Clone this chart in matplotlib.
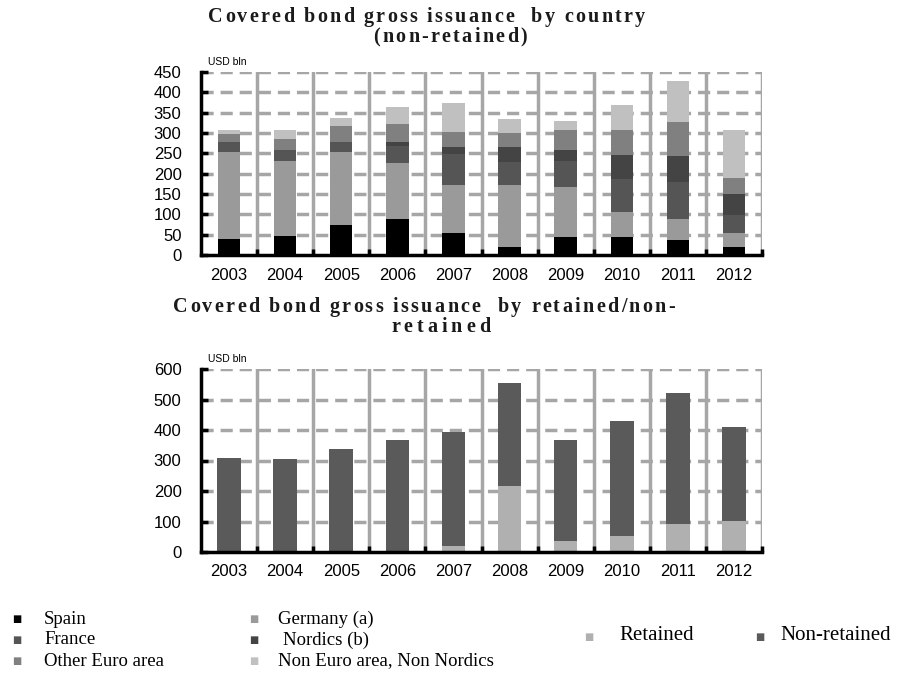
import numpy as np
import matplotlib
matplotlib.use("Agg")
import matplotlib.pyplot as plt

years = ["2003", "2004", "2005", "2006", "2007", "2008", "2009", "2010", "2011", "2012"]

# top chart: non-retained issuance by country, USD bln
spain = [39, 47, 75, 88, 54, 20, 45, 45, 37, 20]
germany = [214, 184, 178, 138, 117, 151, 122, 61, 51, 34]
france = [24, 27, 26, 43, 78, 57, 64, 80, 92, 44]
nordics = [0, 0, 0, 10, 17, 38, 27, 59, 64, 51]
other_euro = [21, 28, 38, 42, 36, 33, 49, 62, 82, 41]
non_euro = [10, 21, 21, 44, 72, 35, 23, 63, 102, 117]

# bottom chart: retained vs non-retained, USD bln
retained = [0, 0, 0, 0, 19, 217, 37, 52, 93, 102]
total = [308, 304, 338, 368, 393, 553, 368, 430, 521, 411]
non_retained = [t - r for t, r in zip(total, retained)]

country_series = [
    ("Spain", spain, "#000000"),
    ("Germany (a)", germany, "#9a9a9a"),
    ("France", france, "#555555"),
    ("Nordics (b)", nordics, "#444444"),
    ("Other Euro area", other_euro, "#808080"),
    ("Non Euro area, Non Nordics", non_euro, "#c0c0c0"),
]

SERIF = "Liberation Serif"
SANS = "Liberation Sans"
GRID = "#a6a6a6"
W, H = 897, 673

fig = plt.figure(figsize=(8.97, 6.73), dpi=100)
renderer = fig.canvas.get_renderer()


def px(x, y):
    # pixel coords from top-left -> figure fraction
    return x / W, 1 - y / H


def spaced_text(s, x0, x1, y, **kw):
    """Draw s between pixel x0 and x1 with extra letter spacing (baseline y)."""
    def width(t):
        if not t:
            return 0.0
        tmp = fig.text(0, 0, t.replace(" ", "\u00a0"), **kw)
        w = tmp.get_window_extent(renderer).width
        tmp.remove()
        return w
    full = width(s)
    extra = (x1 - x0 - full) / max(len(s) - 1, 1)
    for i, ch in enumerate(s):
        if ch == " ":
            continue
        xx = x0 + width(s[:i]) + i * extra
        fig.text(*px(xx, y), ch, ha="left", va="baseline", **kw)


def style_axes(ax, ymax, step):
    n = len(years)
    ax.set_xlim(-0.5, n - 0.5)
    ax.set_ylim(0, ymax)
    ax.set_yticks(np.arange(0, ymax + 1, step))
    ax.set_xticks(np.arange(n))
    ax.set_xticklabels(years, fontfamily=SANS, fontsize=12)
    ax.set_xticks(np.arange(n) + 0.5, minor=True)
    ax.tick_params(axis="x", which="major", length=0, pad=9)
    ax.tick_params(axis="x", which="minor", direction="in", length=4, width=2.5, color="black")
    ax.tick_params(axis="y", direction="in", length=5, width=2.5, pad=14)
    for lab in ax.get_yticklabels():
        lab.set_fontfamily(SANS)
        lab.set_fontsize(12)
    # dashed horizontal grid
    for v in np.arange(step, ymax + 1, step):
        ax.axhline(v, color=GRID, lw=2.5, ls=(0, (3.5, 2)), zorder=0)
    # solid separators between years
    for b in np.arange(n) + 0.5:
        ax.axvline(b, color=GRID, lw=2.5, zorder=0)
    for s in ["top", "right"]:
        ax.spines[s].set_visible(False)
    ax.spines["left"].set_linewidth(2.5)
    ax.spines["bottom"].set_linewidth(2.5)
    ax.text(0.012, 1.025, "USD bln", transform=ax.transAxes, fontfamily=SANS,
            fontsize=7.5, va="bottom", ha="left")


x = np.arange(len(years))

# top chart
ax1 = fig.add_axes([201 / W, 1 - 255 / H, 561 / W, 183 / H])
bottom = np.zeros(len(years))
for name, vals, col in country_series:
    ax1.bar(x, vals, width=0.4, bottom=bottom, color=col, zorder=2)
    bottom += np.array(vals)
style_axes(ax1, 450, 50)

# bottom chart
ax2 = fig.add_axes([201 / W, 1 - 552 / H, 561 / W, 183 / H])
ax2.bar(x, retained, width=0.42, color="#b0b0b0", zorder=2)
ax2.bar(x, non_retained, width=0.42, bottom=retained, color="#5a5a5a", zorder=2)
style_axes(ax2, 600, 100)

# titles
tkw = dict(fontfamily=SERIF, fontsize=14.5, fontweight="bold", color="#1a1a1a")
spaced_text("Covered bond gross issuance  by country", 208, 645, 22, **tkw)
spaced_text("(non-retained)", 373, 527, 42, **tkw)
spaced_text("Covered bond gross issuance  by retained/non-", 173, 675, 312, **tkw)
spaced_text("retained", 391, 490, 332, **tkw)

# legend, drawn by hand to sit where the reference has it
lkw = dict(fontfamily=SERIF, fontsize=13.5, va="center", ha="left")
col1 = [0, 2, 4]
col2 = [1, 3, 5]
for row, i in enumerate(col1):
    yy = 619 + row * 21
    fig.text(*px(12, yy), "\u25a0", color=country_series[i][2], fontsize=7,
             va="center", ha="left", fontfamily="DejaVu Sans")
    fig.text(*px(44, yy), country_series[i][0], **lkw)
for row, i in enumerate(col2):
    yy = 619 + row * 21
    fig.text(*px(249, yy), "\u25a0", color=country_series[i][2], fontsize=7,
             va="center", ha="left", fontfamily="DejaVu Sans")
    lx = 283 if i == 3 else 278
    fig.text(*px(lx, yy), country_series[i][0], **lkw)

rkw = dict(fontfamily=SERIF, fontsize=15, va="center", ha="left")
fig.text(*px(584, 637), "\u25a0", color="#b0b0b0", fontsize=7, va="center",
         ha="left", fontfamily="DejaVu Sans")
fig.text(*px(619, 636), "Retained", **rkw)
fig.text(*px(755, 637), "\u25a0", color="#5a5a5a", fontsize=7, va="center",
         ha="left", fontfamily="DejaVu Sans")
fig.text(*px(780, 636), "Non-retained", **rkw)

fig.savefig("out.png", dpi=100)
